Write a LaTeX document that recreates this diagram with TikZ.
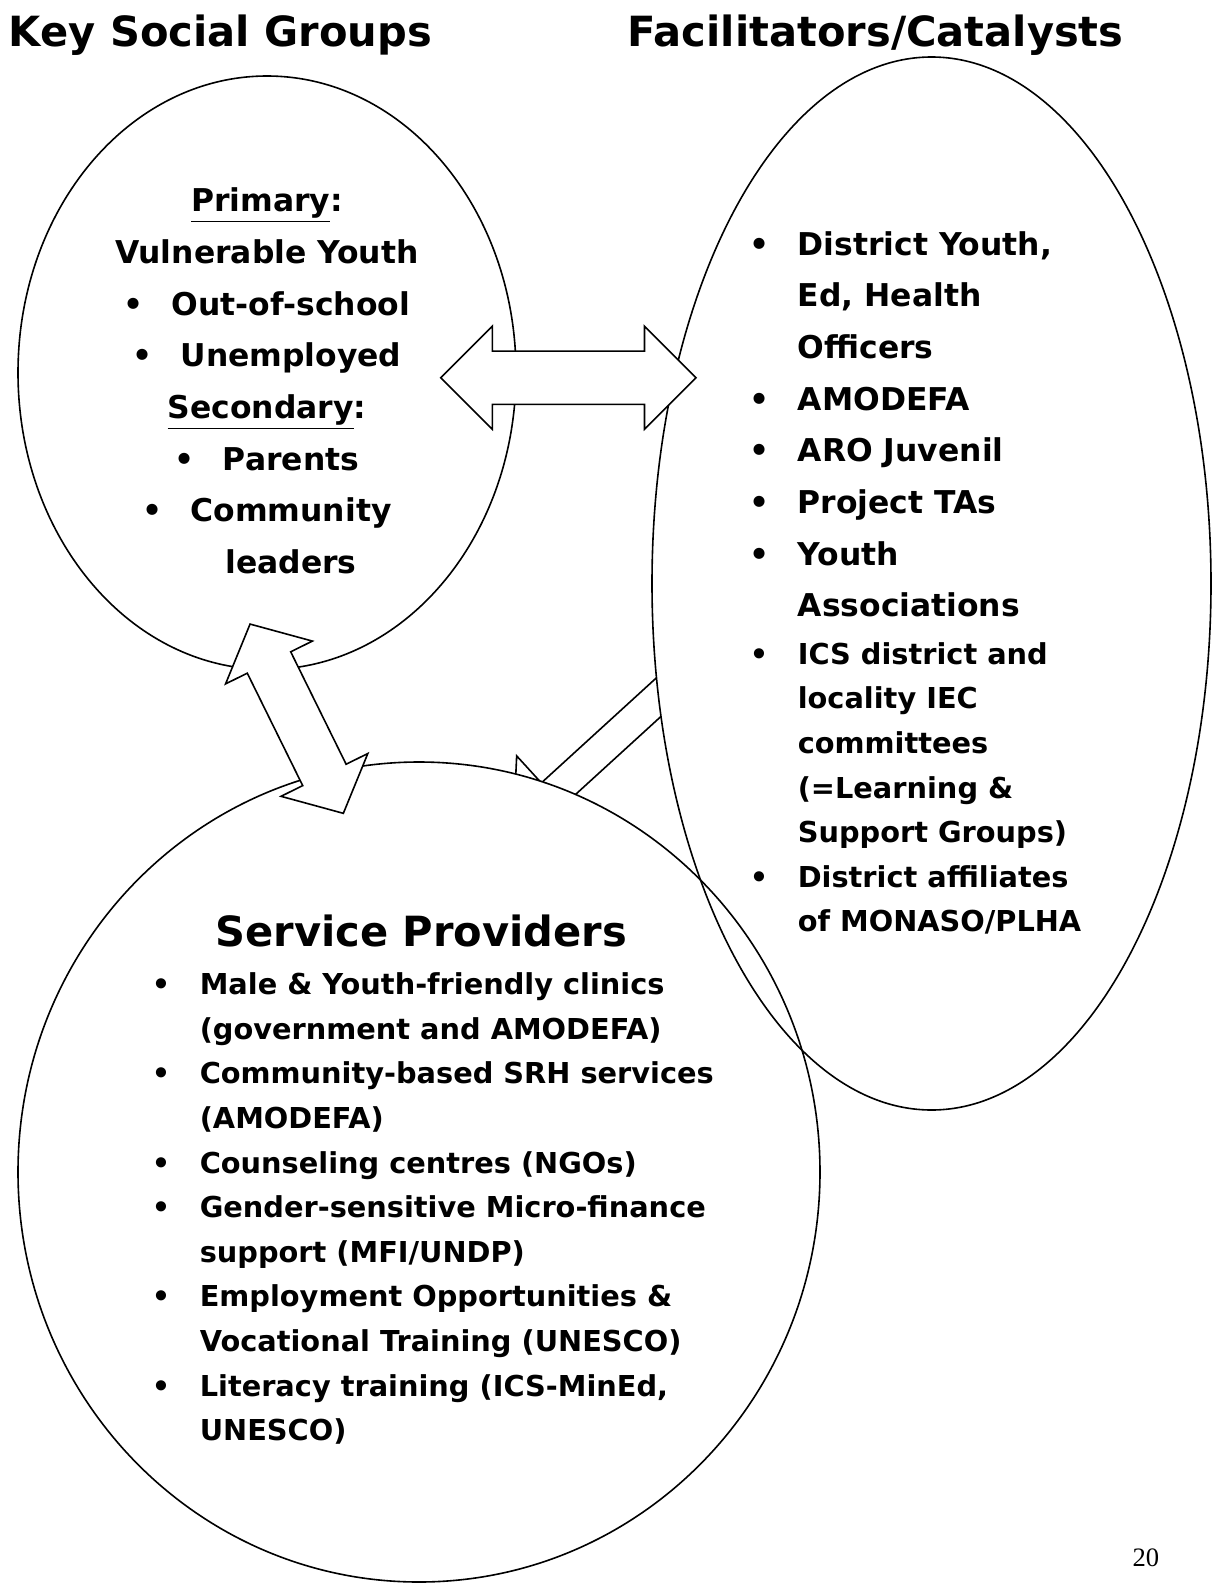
\documentclass[tikz,border=0pt]{standalone}
\usepackage{fontspec}
\setmainfont{DejaVu Sans}
\newfontfamily\numfont{Liberation Serif}
\usetikzlibrary{shapes.geometric,shapes.arrows,calc}

\newcommand{\titlesize}{\fontsize{20.8}{26}\selectfont\bfseries}
\newcommand{\mainsize}{\fontsize{15.7}{25.85}\selectfont\bfseries}
\newcommand{\listsize}{\fontsize{14.4}{22.3}\selectfont\bfseries}
\newcommand{\itm}{\makebox[24pt][l]{\textbullet}}
\newcommand{\cnt}{\hspace*{24pt}}

\tikzset{
  bubble/.style={
    ellipse,
    fill=white,
    inner sep=0pt,
    outer sep=0pt
  },
  link/.style={
    double arrow,
    draw,
    fill=white,
    inner xsep=0pt,
    outer sep=0pt,
    double arrow tip angle=90
  },
  txt/.style={
    inner sep=0pt
  }
}

\begin{document}
\begin{tikzpicture}[x=0.5pt, y=-0.5pt, line width=0.8pt]
\useasboundingbox (0,0) rectangle (1214,1585);

\node[txt, anchor=base west, font=\titlesize] (ksg) at (8,46.7) {Key Social Groups};
\node[txt, anchor=base west, font=\titlesize] (fc) at (627,46.7) {Facilitators/Catalysts};

% this one runs under both bubbles, only the middle bit shows
\node[single arrow, draw, fill=white, inner xsep=0pt, outer sep=0pt,
  inner ysep=7.5pt, single arrow head extend=18.3pt, single arrow tip angle=90,
  minimum height=120pt, rotate=222.4, anchor=tip] (fp) at (513.3,829.9) {};

\node[bubble, minimum width=249pt, minimum height=296.7pt] (groups) at (267,372.7) {};
\node[bubble, minimum width=279.5pt, minimum height=526.5pt] (facil) at (931.5,583.5) {};
\node[bubble, minimum width=401pt, minimum height=410pt] (prov) at (419,1172) {};

\foreach \b in {groups,facil,prov}
  \draw let \p1=($(\b.east)-(\b.center)$), \p2=($(\b.north)-(\b.center)$)
    in (\b.center) ellipse [x radius=\x1, y radius=\y2];

\node[link, minimum height=127.65pt, inner ysep=12.9pt,
  double arrow head extend=12.5pt] (gf) at (568.4,377.7) {};
\node[link, minimum height=105.5pt, inner ysep=11.7pt,
  double arrow head extend=12.1pt, double arrow tip angle=97,
  rotate=-63.76] (gp) at (296.7,718.7) {};

% multi-line nodes sit on the baseline of their last line
\node[txt, anchor=base, align=center, font=\mainsize] (grouptext) at (267,573.5) {%
  \underline{Primary}:\\
  Vulnerable Youth\\
  \itm Out-of-school\\
  \itm Unemployed\\
  \underline{Secondary}:\\
  \itm Parents\\
  \itm Community\\
  \cnt leaders};

\node[txt, anchor=base west, align=left, font=\mainsize] (factext) at (749,616.9) {%
  \itm District Youth,\\
  \cnt Ed, Health\\
  \cnt Officers\\
  \itm AMODEFA\\
  \itm ARO Juvenil\\
  \itm Project TAs\\
  \itm Youth\\
  \cnt Associations};
\node[txt, anchor=base west, align=left, font=\listsize] (facnotes) at (749,931.9) {%
  \itm ICS district and\\
  \cnt locality IEC\\
  \cnt committees\\
  \cnt (=Learning \&\\
  \cnt Support Groups)\\
  \itm District affiliates\\
  \cnt of MONASO/PLHA};

\node[txt, anchor=base, font=\titlesize] (provtitle) at (421.3,946) {Service Providers};
\node[txt, anchor=base west, align=left, font=\listsize] (provlist) at (151,1440.7) {%
  \itm Male \& Youth-friendly clinics\\
  \cnt (government and AMODEFA)\\
  \itm Community-based SRH services\\
  \cnt (AMODEFA)\\
  \itm Counseling centres (NGOs)\\
  \itm Gender-sensitive Micro-finance\\
  \cnt support (MFI/UNDP)\\
  \itm Employment Opportunities \&\\
  \cnt Vocational Training (UNESCO)\\
  \itm Literacy training (ICS-MinEd,\\
  \cnt UNESCO)};

\node[txt, anchor=base east, font=\numfont\fontsize{13.3}{16}\selectfont] (pg) at (1160,1566.7) {20};
\end{tikzpicture}
\end{document}
